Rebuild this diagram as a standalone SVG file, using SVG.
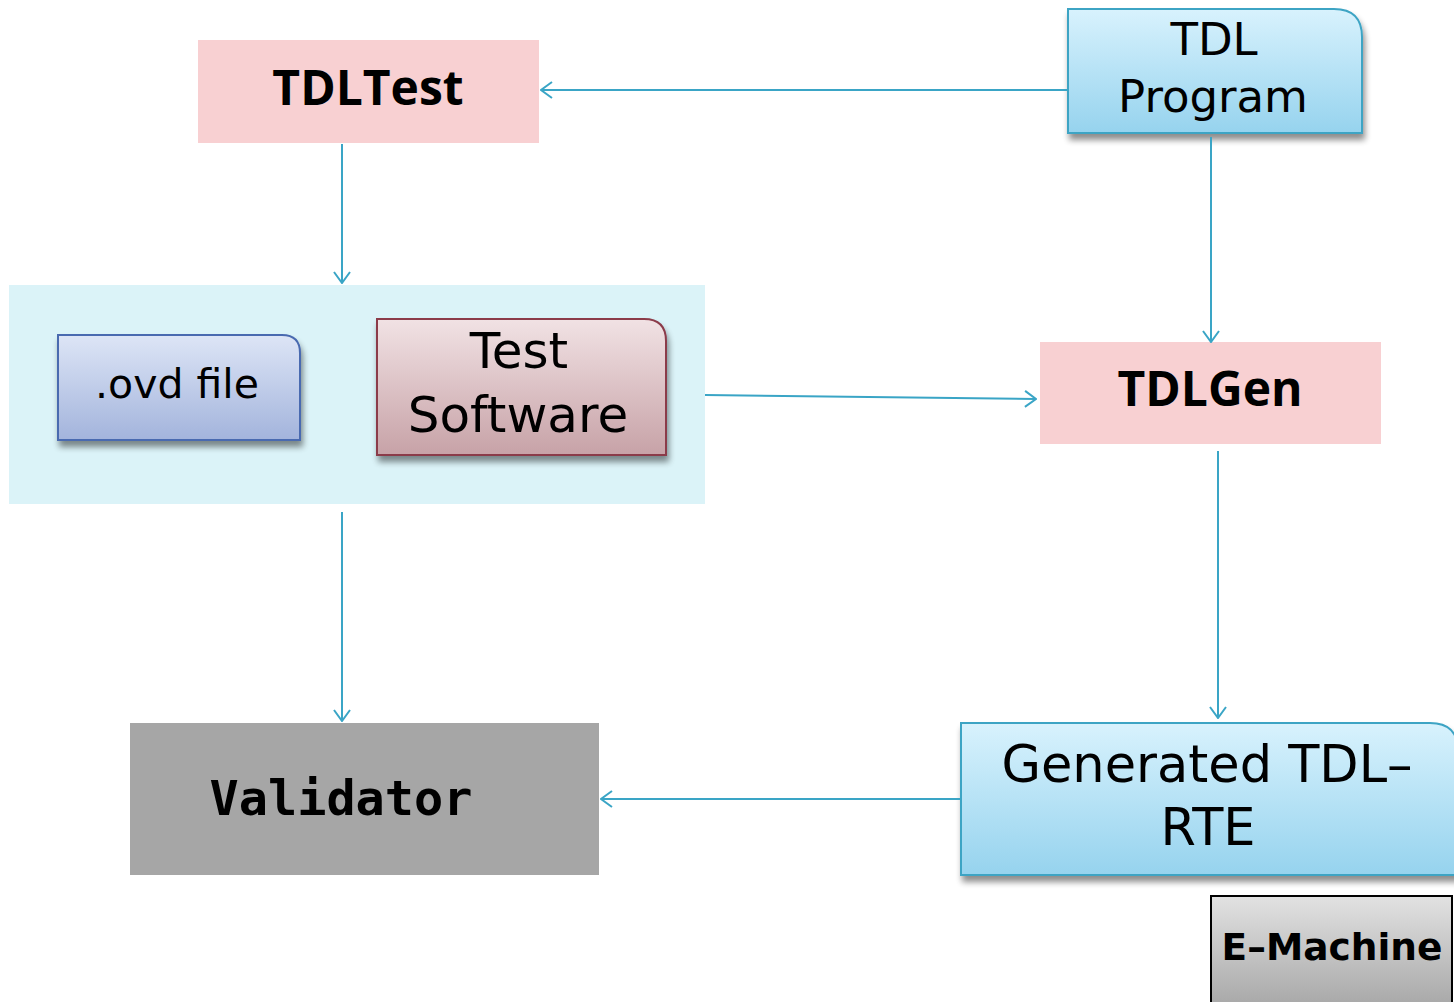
<svg xmlns="http://www.w3.org/2000/svg" width="1454" height="1002" viewBox="0 0 1454 1002">
  <defs>
    <linearGradient id="gBlue" x1="0" y1="0" x2="0" y2="1">
      <stop offset="0" stop-color="#d8f2fd"/>
      <stop offset="1" stop-color="#96d3ee"/>
    </linearGradient>
    <linearGradient id="gPeri" x1="0" y1="0" x2="0" y2="1">
      <stop offset="0" stop-color="#dde5f6"/>
      <stop offset="1" stop-color="#a3b4dc"/>
    </linearGradient>
    <linearGradient id="gRose" x1="0" y1="0" x2="0" y2="1">
      <stop offset="0" stop-color="#f1e2e4"/>
      <stop offset="1" stop-color="#c7a2a7"/>
    </linearGradient>
    <linearGradient id="gGray" x1="0" y1="0" x2="0" y2="1">
      <stop offset="0" stop-color="#e2e2e2"/>
      <stop offset="1" stop-color="#a9a9a9"/>
    </linearGradient>
    <filter id="shadow" x="-10%" y="-10%" width="130%" height="140%">
      <feGaussianBlur in="SourceAlpha" stdDeviation="3"/>
      <feOffset dx="2" dy="6" result="b"/>
      <feComponentTransfer><feFuncA type="linear" slope="0.45"/></feComponentTransfer>
      <feMerge><feMergeNode/><feMergeNode in="SourceGraphic"/></feMerge>
    </filter>
    <marker id="arrow" viewBox="0 0 13 18" refX="12" refY="9" markerWidth="13" markerHeight="18" markerUnits="userSpaceOnUse" orient="auto">
      <path d="M1,1 L12,9 L1,17" fill="none" stroke="#3aa5c6" stroke-width="2"/>
    </marker>
  </defs>
  <style>
    .conn { fill: none; stroke: #3aa5c6; stroke-width: 2; marker-end: url(#arrow); }
    .lbl { font-family: "DejaVu Sans", "Liberation Sans", sans-serif; fill: #000; text-anchor: middle; }
    .bold { font-family: "Open Sans", "Liberation Sans", sans-serif; font-weight: bold; fill: #000; text-anchor: middle; }
  </style>

  <rect width="1454" height="1002" fill="#ffffff"/>

  <!-- container holding the test inputs -->
  <g id="inputs">
    <rect x="9" y="285" width="696" height="219" fill="#dbf3f8"/>
  </g>

  <g id="tdltest">
    <rect x="198" y="40" width="341" height="103" fill="#f8d0d2"/>
    <text class="bold" x="368" y="105" font-size="48">TDLTest</text>
  </g>

  <g id="tdlprogram">
    <path d="M1068,9 H1334 Q1362,9 1362,37 V133 H1068 Z" fill="url(#gBlue)" stroke="#3ea4c4" stroke-width="2" filter="url(#shadow)"/>
    <text class="lbl" x="1214" y="55" font-size="45">TDL</text>
    <text class="lbl" x="1213" y="112" font-size="45">Program</text>
  </g>

  <g id="ovdfile">
    <path d="M58,335 H282 Q300,335 300,353 V440 H58 Z" fill="url(#gPeri)" stroke="#4a6ab0" stroke-width="2" filter="url(#shadow)"/>
    <text class="lbl" x="177" y="398" font-size="41">.ovd file</text>
  </g>

  <g id="testsoftware">
    <path d="M377,319 H644 Q666,319 666,341 V455 H377 Z" fill="url(#gRose)" stroke="#8b3a4a" stroke-width="2" filter="url(#shadow)"/>
    <text class="lbl" x="519" y="368" font-size="50">Test</text>
    <text class="lbl" x="518" y="432" font-size="50">Software</text>
  </g>

  <g id="tdlgen">
    <rect x="1040" y="342" width="341" height="102" fill="#f8d0d2"/>
    <text class="bold" x="1210" y="406" font-size="48">TDLGen</text>
  </g>

  <g id="validator">
    <rect x="130" y="723" width="469" height="152" fill="#a6a6a6"/>
    <text x="341" y="815" font-family="'DejaVu Sans Mono', 'Liberation Mono', monospace" font-weight="bold" font-size="48.5" text-anchor="middle" fill="#000">Validator</text>
  </g>

  <g id="generated">
    <path d="M961,723 H1430 Q1458,723 1458,751 V875 H961 Z" fill="url(#gBlue)" stroke="#3ea4c4" stroke-width="2" filter="url(#shadow)"/>
    <text class="lbl" x="1207" y="782" font-size="51">Generated TDL–</text>
    <text class="lbl" x="1208" y="845" font-size="51">RTE</text>
  </g>

  <g id="emachine">
    <rect x="1211" y="896" width="241" height="108" fill="url(#gGray)" stroke="#000" stroke-width="2"/>
    <text x="1332" y="960" font-family="'DejaVu Sans', 'Liberation Sans', sans-serif" font-weight="bold" font-size="37.5" text-anchor="middle" fill="#000">E–Machine</text>
  </g>

  <g id="connectors">
    <line class="conn" x1="1068" y1="90" x2="541" y2="90"/>
    <line class="conn" x1="342" y1="144" x2="342" y2="283"/>
    <line class="conn" x1="1211" y1="137" x2="1211" y2="342"/>
    <line class="conn" x1="705" y1="395" x2="1036" y2="399"/>
    <line class="conn" x1="1218" y1="451" x2="1218" y2="718"/>
    <line class="conn" x1="342" y1="512" x2="342" y2="721"/>
    <line class="conn" x1="961" y1="799" x2="601" y2="799"/>
  </g>
</svg>
